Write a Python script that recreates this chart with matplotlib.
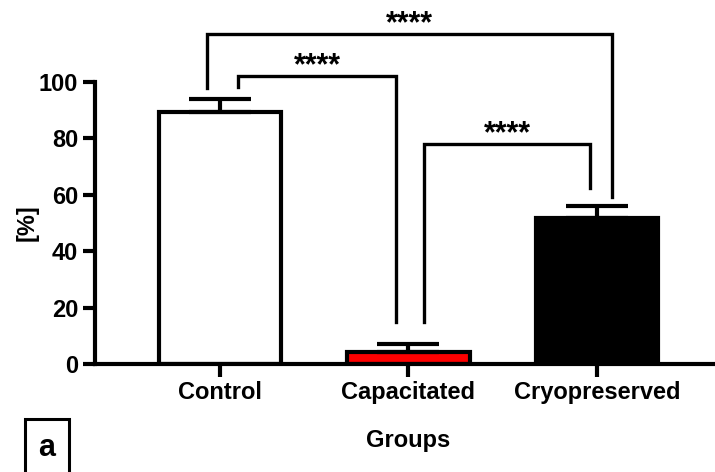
import matplotlib
matplotlib.use("Agg")
import matplotlib.pyplot as plt

# ---- data ----
groups = ["Control", "Capacitated", "Cryopreserved"]
means = [89.4, 4.3, 51.8]
errors = [4.6, 2.8, 4.2]
bar_colors = ["white", "#FF0000", "black"]
yticks = [0, 20, 40, 60, 80, 100]

# brackets: (left group, right group, top y, left leg bottom, right leg bottom, label)
brackets = [
    (0, 1, 102.1, 98.2, 14.9, "****"),
    (1, 2, 78.0, 14.9, 62.4, "****"),
    (0, 2, 117.0, 98.0, 59.2, "****"),
]
# horizontal offsets of legs from group centres
leg_offsets = [
    (0.096, -0.064),
    (0.085, -0.037),
    (-0.069, 0.080),
]

plt.rcParams['font.family'] = ['Liberation Sans', 'DejaVu Sans']

fig = plt.figure(figsize=(7.15, 4.72), dpi=100)
ax = fig.add_axes([95/715, 1-364/472, (715-95)/715, (364-11.5)/472])

x = list(range(len(groups)))
ax.bar(x, means, width=0.65, color=bar_colors, edgecolor="black",
       linewidth=3, zorder=2)
ax.errorbar(x, means, yerr=[[0]*len(errors), errors], fmt="none",
            ecolor="black", elinewidth=3, capsize=22, capthick=3, zorder=3)

for (a, b, top, lb, rb, lab), (oa, ob) in zip(brackets, leg_offsets):
    xa = a + oa
    xb = b + ob
    ax.plot([xa, xa, xb, xb], [lb, top, top, rb], color="black",
            linewidth=2.4, solid_joinstyle="miter", clip_on=False, zorder=4)
    ax.text((xa + xb) / 2, top + 0.8, lab, ha="center", va="baseline",
            fontsize=22, fontweight="bold", clip_on=False)

ax.set_xlim(-0.665, 2.628)
ax.set_ylim(0, 125)
ax.set_yticks(yticks)
ax.set_xticks(x)
ax.set_xticklabels(groups)
for s in ["top", "right"]:
    ax.spines[s].set_visible(False)
ax.spines["left"].set_bounds(0, 100)
ax.spines["left"].set_linewidth(3)
ax.spines["bottom"].set_linewidth(3)
ax.tick_params(axis="both", width=3, length=9, labelsize=17, pad=3)
for t in ax.get_xticklabels() + ax.get_yticklabels():
    t.set_fontweight("bold")

ax.set_xlabel("Groups", fontsize=17, fontweight="bold", va="center")
ax.xaxis.set_label_coords(0.505, (364-440)/352.5)
ax.set_ylabel("[%]", fontsize=17, fontweight="bold", va="center")
ax.yaxis.set_label_coords((27-95)/620, 0.40)

fig.text(47/715, 1-448/472, "a", fontsize=22, fontweight="bold",
         ha="center", va="center",
         bbox=dict(boxstyle="square,pad=0.45", facecolor="white",
                   edgecolor="black", linewidth=2.2))

fig.savefig("out.png", dpi=100)
